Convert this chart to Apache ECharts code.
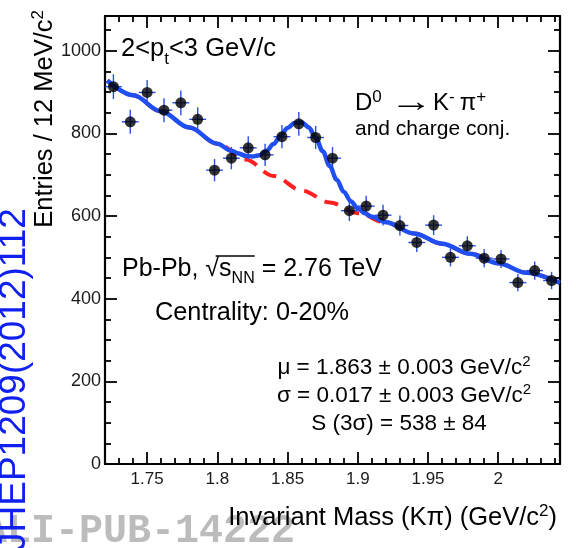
<!DOCTYPE html>
<html>
<head>
<meta charset="utf-8">
<script src="https://cdn.jsdelivr.net/npm/echarts@6/dist/echarts.min.js"></script>
<style>
  html, body { margin: 0; padding: 0; background: #fff; }
  #chart { width: 576px; height: 548px; }
</style>
</head>
<body>
<div id="chart"></div>
<script>
// D0 -> K- pi+ invariant-mass spectrum, 12 MeV/c^2 bins, 2 < pt < 3 GeV/c
const massBins = [1.726, 1.738, 1.750, 1.762, 1.774, 1.786, 1.798, 1.810, 1.822, 1.834,
                  1.846, 1.858, 1.870, 1.882, 1.894, 1.906, 1.918, 1.930, 1.942, 1.954,
                  1.966, 1.978, 1.990, 2.002, 2.014, 2.026, 2.038];
const entries = [913, 828, 899, 856, 874, 834, 711, 740, 765, 748,
                 792, 823, 790, 740, 613, 624, 602, 577, 536, 578,
                 500, 528, 498, 496, 439, 468, 444];
const entryErrors = [30, 29, 30, 29, 30, 29, 27, 27, 28, 27,
                     28, 29, 28, 27, 25, 25, 25, 24, 23, 24,
                     22, 23, 22, 22, 21, 22, 21];
const binHalfWidth = 0.006;

// total fit (Gaussian signal + background), sampled along the curve
const fitMass = [1.7216, 1.74, 1.76, 1.78, 1.80, 1.81, 1.815, 1.82, 1.825, 1.83,
                 1.835, 1.84, 1.845, 1.85, 1.855, 1.86, 1.865, 1.87, 1.875, 1.88,
                 1.885, 1.89, 1.895, 1.90, 1.905, 1.91, 1.92, 1.94, 1.96, 1.98,
                 2.00, 2.02, 2.044];
const fitValues = [928, 892, 853, 814, 775, 758, 751, 746, 744, 747,
                   758, 774, 794, 813, 825, 827, 815, 790, 757, 721,
                   688, 659, 636, 619, 607, 598, 585, 558, 533, 509,
                   486, 463, 438];

// background component of the fit
const bkgMass = [1.7216, 1.74, 1.76, 1.78, 1.80, 1.82, 1.84, 1.86, 1.88, 1.90,
                 1.92, 1.94, 1.96, 1.98, 2.00, 2.02, 2.044];
const bkgValues = [928, 892, 853, 814, 775, 737, 697, 662, 633, 607,
                   584, 558, 533, 509, 486, 463, 438];

// axis ticks
const xMajorTicks = [1.75, 1.8, 1.85, 1.9, 1.95, 2.0];
const xMinorTicks = [1.73, 1.74, 1.76, 1.77, 1.78, 1.79, 1.81, 1.82, 1.83, 1.84,
                     1.86, 1.87, 1.88, 1.89, 1.91, 1.92, 1.93, 1.94, 1.96, 1.97,
                     1.98, 1.99, 2.01, 2.02, 2.03, 2.04];
const yMajorTicks = [0, 200, 400, 600, 800, 1000];
const yMinorTicks = [50, 100, 150, 250, 300, 350, 450, 500, 550, 650, 700, 750,
                     850, 900, 950, 1050];

const X_MIN = 1.72, X_MAX = 2.044, Y_MIN = 0, Y_MAX = 1084;
const SANS = '"Liberation Sans", Arial, Helvetica, sans-serif';
const MONO = '"Liberation Mono", "Courier New", monospace';

// ---- text helpers: runs of text with sub/superscripts laid out on one baseline
// part: { t: text, s: font size, dy: baseline shift, gap: space before, sx: horizontal stretch }
const measureCtx = document.createElement('canvas').getContext('2d');
function textWidth(t, size, family, weight) {
  measureCtx.font = (weight || 'normal') + ' ' + size + 'px ' + family;
  return measureCtx.measureText(t).width;
}
function textRun(parts, ax, ay, opts) {
  opts = opts || {};
  const family = opts.family || SANS;
  const weight = opts.weight || 'normal';
  const fill = opts.fill || '#000';
  const rot = opts.rotate || 0;
  const widths = parts.map(p => (p.gap || 0) + textWidth(p.t, p.s, family, weight) * (p.sx || 1));
  const total = widths.reduce((a, b) => a + b, 0);
  let adv = opts.align === 'right' ? -total : (opts.align === 'center' ? -total / 2 : 0);
  const els = [];
  const spans = [];
  parts.forEach((p, i) => {
    const start = adv + (p.gap || 0);
    const mid = (p.dy || 0) - 0.35 * p.s;
    const px = rot ? ax + mid : ax + start;
    const py = rot ? ay - start : ay + mid;
    els.push({
      type: 'text', x: px, y: py, rotation: rot, scaleX: p.sx || 1, silent: true, z: opts.z || 10,
      style: {
        text: p.t, fontSize: p.s, fontFamily: family, fontWeight: weight,
        fill: fill, align: 'left', verticalAlign: 'middle'
      }
    });
    spans.push([ax + start, ax + adv + widths[i]]);
    adv += widths[i];
  });
  return { els, spans };
}

const graphics = [];
function add(run) { run.els.forEach(e => graphics.push(e)); return run; }

// watermark and journal reference
add(textRun([{ t: 'ALI-PUB-14222', s: 40 }], -17, 546, { family: MONO, weight: 'bold', fill: '#bcbcbc', z: 1 }));
add(textRun([{ t: 'JHEP1209(2012)112', s: 37 }], 28, 551, { rotate: Math.PI / 2, fill: '#1020f0', z: 20 }));

// axis titles
add(textRun([{ t: 'Entries / 12 MeV/c', s: 25.5 }, { t: '2', s: 17, dy: -10 }], 54, 10, { rotate: Math.PI / 2, align: 'right' }));
add(textRun([{ t: 'Invariant Mass (K\u03c0) (GeV/c', s: 25.5 }, { t: '2', s: 17, dy: -10 }, { t: ')', s: 25.5 }],
            557, 527, { align: 'right', z: 5 }));

// in-frame annotations
add(textRun([{ t: '2<p', s: 25.5 }, { t: 't', s: 17, dy: 7 }, { t: '<3 GeV/c', s: 25.5 }], 121, 58));
add(textRun([
  { t: 'D', s: 24 }, { t: '0', s: 17, dy: -9 },
  { t: '\u2192', s: 30, gap: 8, sx: 1.44, dy: 1.5 },
  { t: 'K', s: 24, gap: 0 }, { t: '-', s: 17, dy: -9 },
  { t: '\u03c0', s: 24, gap: 5 }, { t: '+', s: 17, dy: -9 }
], 355, 112));
add(textRun([{ t: 'and charge conj.', s: 21 }], 355, 137));
const pb = add(textRun([
  { t: 'Pb-Pb, ', s: 25 }, { t: '\u221a', s: 25 }, { t: 's', s: 25 },
  { t: 'NN', s: 16, dy: 6 }, { t: ' = 2.76 TeV', s: 25 }
], 122, 278));
graphics.push({
  type: 'line', silent: true, z: 10,
  shape: { x1: pb.spans[1][0] + 0.75 * (pb.spans[1][1] - pb.spans[1][0]), y1: 256, x2: pb.spans[3][1], y2: 256 },
  style: { stroke: '#000', lineWidth: 1.4 }
});
add(textRun([{ t: 'Centrality: 0-20%', s: 25.3 }], 155, 322));
add(textRun([{ t: '\u03bc = 1.863 \u00b1 0.003 GeV/c', s: 22.5 }, { t: '2', s: 15, dy: -9 }], 404, 376, { align: 'center' }));
add(textRun([{ t: '\u03c3 = 0.017 \u00b1 0.003 GeV/c', s: 22.5 }, { t: '2', s: 15, dy: -9 }], 404, 404, { align: 'center' }));
add(textRun([{ t: 'S (3\u03c3) = 538 \u00b1 84', s: 22.5 }], 399, 432, { align: 'center' }));

// ---- axes: frame on all four sides, major + minor ticks pointing inward
const plainNumber = v => String(+v.toFixed(3));
function xAxisDef(position, ticks, len, withLabels, withLine) {
  return {
    type: 'value', position: position, min: X_MIN, max: X_MAX,
    axisLine: { show: withLine, onZero: false, lineStyle: { color: '#000', width: 2.2 } },
    axisTick: { show: true, inside: true, length: len, customValues: ticks,
                lineStyle: { color: '#000', width: 1.8 } },
    axisLabel: withLabels
      ? { show: true, customValues: ticks, formatter: plainNumber, fontSize: 17, fontFamily: SANS, color: '#1a1a1a', margin: 7 }
      : { show: false },
    splitLine: { show: false }
  };
}
function yAxisDef(position, ticks, len, withLabels, withLine) {
  return {
    type: 'value', position: position, min: Y_MIN, max: Y_MAX,
    axisLine: { show: withLine, onZero: false, lineStyle: { color: '#000', width: 2.2 } },
    axisTick: { show: true, inside: true, length: len, customValues: ticks,
                lineStyle: { color: '#000', width: 1.8 } },
    axisLabel: withLabels
      ? { show: true, customValues: ticks, formatter: plainNumber, fontSize: 18, fontFamily: SANS, color: '#1a1a1a', margin: 4 }
      : { show: false },
    splitLine: { show: false }
  };
}

const chart = echarts.init(document.getElementById('chart'), null, { renderer: 'canvas' });
chart.setOption({
  animation: false,
  backgroundColor: '#fff',
  grid: { left: 105, right: 16, top: 16, bottom: 84, show: false },
  xAxis: [
    xAxisDef('bottom', xMajorTicks, 12, true, true),
    xAxisDef('bottom', xMinorTicks, 6, false, false),
    xAxisDef('top', xMajorTicks, 12, false, true),
    xAxisDef('top', xMinorTicks, 6, false, false)
  ],
  yAxis: [
    yAxisDef('left', yMajorTicks, 12, true, true),
    yAxisDef('left', yMinorTicks, 6, false, false),
    yAxisDef('right', yMajorTicks, 12, false, true),
    yAxisDef('right', yMinorTicks, 6, false, false)
  ],
  series: [
    {
      name: 'background', type: 'line', xAxisIndex: 0, yAxisIndex: 0,
      data: bkgMass.map((m, i) => [m, bkgValues[i]]),
      smooth: 0.35, smoothMonotone: 'x', symbol: 'none', silent: true, z: 2,
      lineStyle: { color: '#ff2020', width: 4, type: [14, 9] }
    },
    {
      name: 'fit', type: 'line', xAxisIndex: 0, yAxisIndex: 0,
      data: fitMass.map((m, i) => [m, fitValues[i]]),
      smooth: 0.35, smoothMonotone: 'x', symbol: 'none', silent: true, z: 3,
      lineStyle: { color: '#1f4ff0', width: 4.5 }
    },
    {
      name: 'errors', type: 'custom', xAxisIndex: 0, yAxisIndex: 0, silent: true, z: 4,
      data: massBins.map((m, i) => [m, entries[i], entryErrors[i]]),
      renderItem: function (params, api) {
        const x = api.value(0), y = api.value(1), e = api.value(2);
        const lo = api.coord([x, y - e]), hi = api.coord([x, y + e]);
        const l = api.coord([x - binHalfWidth, y]), r = api.coord([x + binHalfWidth, y]);
        const st = { stroke: '#2b4fe6', lineWidth: 1.4 };
        return {
          type: 'group',
          children: [
            { type: 'line', shape: { x1: lo[0], y1: lo[1], x2: hi[0], y2: hi[1] }, style: st },
            { type: 'line', shape: { x1: l[0], y1: l[1], x2: r[0], y2: r[1] }, style: st }
          ]
        };
      }
    },
    {
      name: 'data', type: 'scatter', xAxisIndex: 0, yAxisIndex: 0, silent: true, z: 5,
      data: massBins.map((m, i) => [m, entries[i]]),
      symbol: 'circle', symbolSize: 11, itemStyle: { color: '#000' }
    }
  ],
  graphic: graphics
});
</script>
</body>
</html>
